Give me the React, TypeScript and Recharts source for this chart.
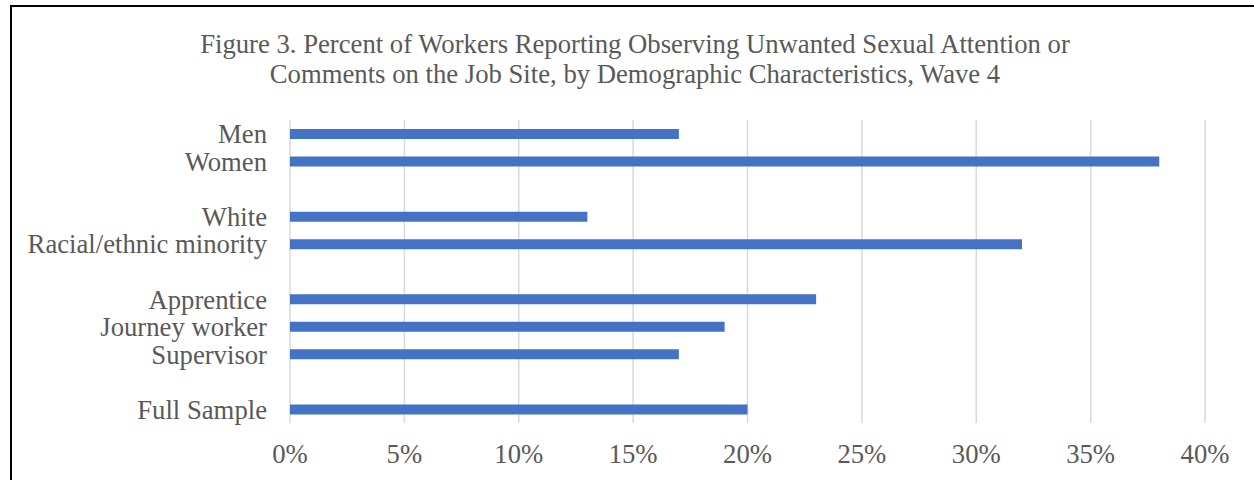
import { BarChart, Bar, XAxis, YAxis, CartesianGrid } from "recharts";

// blank entries are spacer rows between the groups
const categories = [
  "Men",
  "Women",
  " ",
  "White",
  "Racial/ethnic minority",
  "  ",
  "Apprentice",
  "Journey worker",
  "Supervisor",
  "   ",
  "Full Sample",
];
const percents: (number | null)[] = [17, 38, null, 13, 32, null, 23, 19, 17, null, 20];
const xTicks = [0, 5, 10, 15, 20, 25, 30, 35, 40];

const data = categories.map((name, i) => ({ name, value: percents[i] }));

const textColor = "#595959";
const font = "'Liberation Serif', 'Times New Roman', serif";
const fontSize = 26.7;

export default function App() {
  return (
    <div style={{ position: "fixed", left: 0, top: 0, width: 1254, height: 480, background: "#fff", fontFamily: font }}>
      <div
        style={{
          position: "absolute",
          left: 10,
          top: 5,
          width: 1260,
          height: 490,
          borderLeft: "2px solid #000",
          borderTop: "2px solid #000",
        }}
      />
      <div
        style={{
          position: "absolute",
          left: 0,
          top: 29,
          width: 1270,
          textAlign: "center",
          fontSize: fontSize,
          lineHeight: "30px",
          color: textColor,
          whiteSpace: "nowrap",
        }}
      >
        Figure 3. Percent of Workers Reporting Observing Unwanted Sexual Attention or
        <br />
        Comments on the Job Site, by Demographic Characteristics, Wave 4
      </div>
      <div style={{ position: "absolute", left: 0, top: 0 }}>
        <BarChart
          width={1254}
          height={480}
          data={data}
          layout="vertical"
          margin={{ top: 120, right: 49, bottom: 17, left: 0 }}
        >
          <CartesianGrid horizontal={false} stroke="#d9d9d9" strokeWidth={1.5} />
          <XAxis
            type="number"
            domain={[0, 40]}
            ticks={xTicks}
            tickFormatter={(v) => `${v}%`}
            axisLine={false}
            tickLine={false}
            tickSize={0}
            tickMargin={21}
            height={40}
            interval={0}
            tick={{ fill: textColor, fontSize: fontSize, fontFamily: font }}
          />
          <YAxis
            type="category"
            dataKey="name"
            width={290}
            axisLine={false}
            tickLine={false}
            tickSize={0}
            tickMargin={23}
            interval={0}
            tick={{ fill: textColor, fontSize: fontSize, fontFamily: font }}
          />
          <Bar dataKey="value" fill="#4472C4" barSize={10} isAnimationActive={false} />
        </BarChart>
      </div>
    </div>
  );
}
